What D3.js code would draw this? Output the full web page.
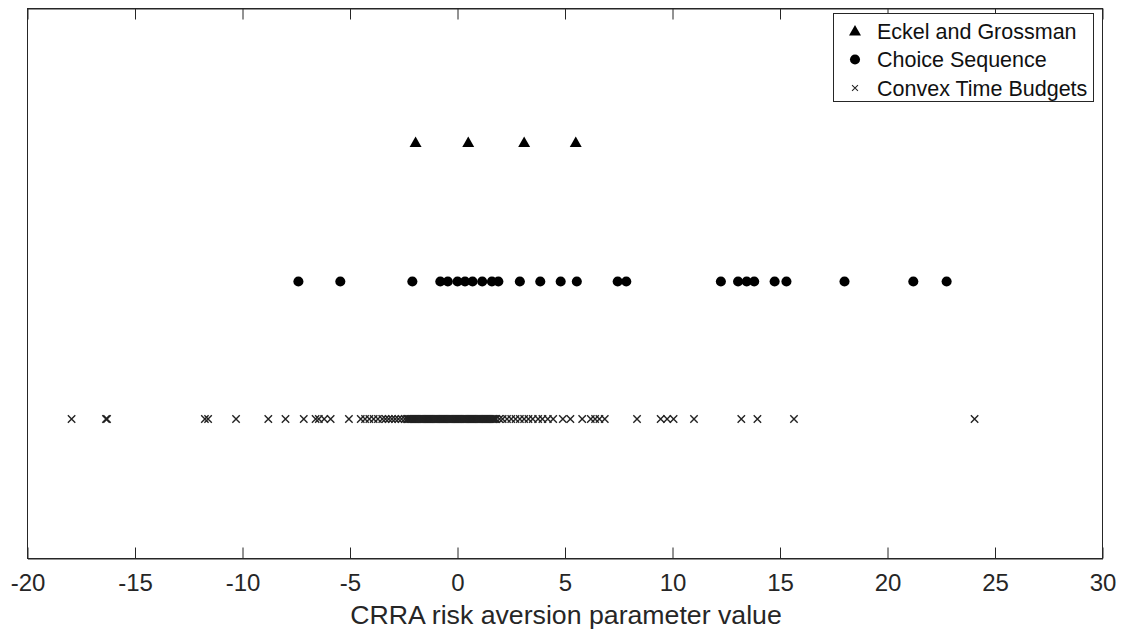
<!DOCTYPE html>
<html>
<head>
<meta charset="utf-8">
<script src="https://cdn.jsdelivr.net/npm/d3@7/dist/d3.min.js"></script>
<style>
  html, body { margin: 0; padding: 0; background: #fff; }
  svg { display: block; font-family: "Liberation Sans", Arial, Helvetica, sans-serif; }
</style>
</head>
<body>
<svg id="chart" width="1121" height="630"></svg>
<script>
// ---- data ----
const seriesNames = ["Eckel and Grossman", "Choice Sequence", "Convex Time Budgets"];
const eckelGrossman = [-1.95, 0.5, 3.1, 5.5];
const choiceSequence = [-7.4, -5.45, -2.1, -0.8, -0.45, 0.0, 0.35, 0.7, 1.15, 1.6, 1.9,
  2.9, 3.85, 4.8, 5.55, 7.45, 7.85, 12.25, 13.05, 13.45, 13.8, 14.75, 15.3, 18.0, 21.2, 22.75];
const convexTimeBudgets = [-17.95, -16.35, -16.3, -11.75, -11.6, -10.3, -8.8, -8.0, -7.15,
  -6.6, -6.45, -6.2, -5.9, -5.05, -4.5, -4.3, -4.1, -3.9, -3.7, -3.5, -3.35, -3.2, -3.05,
  -2.9, -2.75, -2.6, -2.45, -2.35, -2.3, -2.25, -2.2, -2.15, -2.1, -2.05, -2.0, -1.95, -1.9,
  -1.85, -1.8, -1.75, -1.7, -1.65, -1.6, -1.55, -1.5, -1.45, -1.4, -1.35, -1.3, -1.25, -1.2,
  -1.15, -1.1, -1.05, -1.0, -0.95, -0.9, -0.85, -0.8, -0.75, -0.7, -0.65, -0.6, -0.55, -0.5,
  -0.45, -0.4, -0.35, -0.3, -0.25, -0.2, -0.15, -0.1, -0.05, 0.0, 0.05, 0.1, 0.15, 0.2, 0.25,
  0.3, 0.35, 0.4, 0.45, 0.5, 0.55, 0.6, 0.65, 0.7, 0.75, 0.8, 0.85, 0.9, 0.95, 1.0, 1.05,
  1.1, 1.15, 1.2, 1.25, 1.3, 1.35, 1.4, 1.45, 1.5, 1.55, 1.6, 1.65, 1.7, 1.75, 1.8,
  1.95, 2.1, 2.3, 2.5, 2.7, 2.9, 3.1, 3.3, 3.5, 3.75, 3.95, 4.2, 4.45, 4.9, 5.25, 5.8,
  6.2, 6.4, 6.6, 6.85, 8.35, 9.45, 9.75, 10.05, 11.0, 13.2, 13.95, 15.65, 24.05];
const rowLevels = [3, 2, 1]; // vertical level of each series
const xTicks = [-20, -15, -10, -5, 0, 5, 10, 15, 20, 25, 30];
const xLabel = "CRRA risk aversion parameter value";

// ---- layout ----
const svg = d3.select("#chart");
const L = 27.5, R = 1102.5, T = 8.5, B = 558.5;
const x = d3.scaleLinear().domain([-20, 30]).range([L, R]);
const y = d3.scaleLinear().domain([0, 4]).range([557.5, 3.5]);
const axisColor = "#262626";

// box
svg.append("rect").attr("x", L).attr("y", T).attr("width", R - L).attr("height", B - T)
  .attr("fill", "#fff").attr("stroke", axisColor).attr("stroke-width", 1);

// bottom axis
const gx = svg.append("g").attr("transform", `translate(0,${B})`)
  .call(d3.axisBottom(x).tickValues(xTicks).tickFormat(d => String(d))
    .tickSizeInner(-11).tickSizeOuter(0).tickPadding(15));
gx.select(".domain").attr("stroke", axisColor);
gx.selectAll(".tick line").attr("stroke", axisColor);
gx.selectAll(".tick text").attr("font-size", 24).attr("fill", "#262626")
  .attr("font-family", "\"Liberation Sans\", Arial, sans-serif");

// top axis (ticks only)
const gt = svg.append("g").attr("transform", `translate(0,${T})`)
  .call(d3.axisTop(x).tickValues(xTicks).tickSizeInner(-11).tickSizeOuter(0).tickFormat(""));
gt.select(".domain").attr("stroke", axisColor);
gt.selectAll(".tick line").attr("stroke", axisColor);

// axis title
svg.append("text").attr("x", (L + R) / 2 + 1).attr("y", 623.5).attr("text-anchor", "middle")
  .attr("font-size", 26.7).attr("fill", "#262626").text(xLabel);

// markers
const triPath = d3.symbol().type(d3.symbolTriangle).size(62)();
const circPath = d3.symbol().type(d3.symbolCircle).size(80)();
const crossPath = "M-3.7,-3.7L3.7,3.7M-3.7,3.7L3.7,-3.7";

svg.append("g").selectAll("path").data(eckelGrossman).join("path")
  .attr("d", triPath).attr("fill", "#000")
  .attr("transform", d => `translate(${x(d)},${y(rowLevels[0]) + 1.5})`);

svg.append("g").selectAll("path").data(choiceSequence).join("path")
  .attr("d", circPath).attr("fill", "#000")
  .attr("transform", d => `translate(${x(d)},${y(rowLevels[1]) + 1})`);

svg.append("g").selectAll("path").data(convexTimeBudgets).join("path")
  .attr("d", crossPath).attr("fill", "none").attr("stroke", "#222").attr("stroke-width", 1.4)
  .attr("transform", d => `translate(${x(d)},${y(rowLevels[2])})`);

// legend
const lg = svg.append("g");
lg.append("rect").attr("x", 833.5).attr("y", 13.5).attr("width", 260).attr("height", 88)
  .attr("fill", "#fff").attr("stroke", axisColor).attr("stroke-width", 1);
const legY = [31, 59.5, 88];
const legMarks = [triPath, circPath, crossPath];
seriesNames.forEach((name, i) => {
  const m = lg.append("path").attr("d", legMarks[i])
    .attr("transform", `translate(855,${legY[i] + (i === 0 ? 1 : 0)})` + (i === 2 ? " scale(0.8)" : ""));
  if (i === 2) m.attr("fill", "none").attr("stroke", "#222").attr("stroke-width", 1.3);
  else m.attr("fill", "#000");
  lg.append("text").attr("x", 877).attr("y", legY[i]).attr("dy", "0.36em")
    .attr("font-size", 21.5).attr("fill", "#111").text(name);
});
</script>
</body>
</html>
